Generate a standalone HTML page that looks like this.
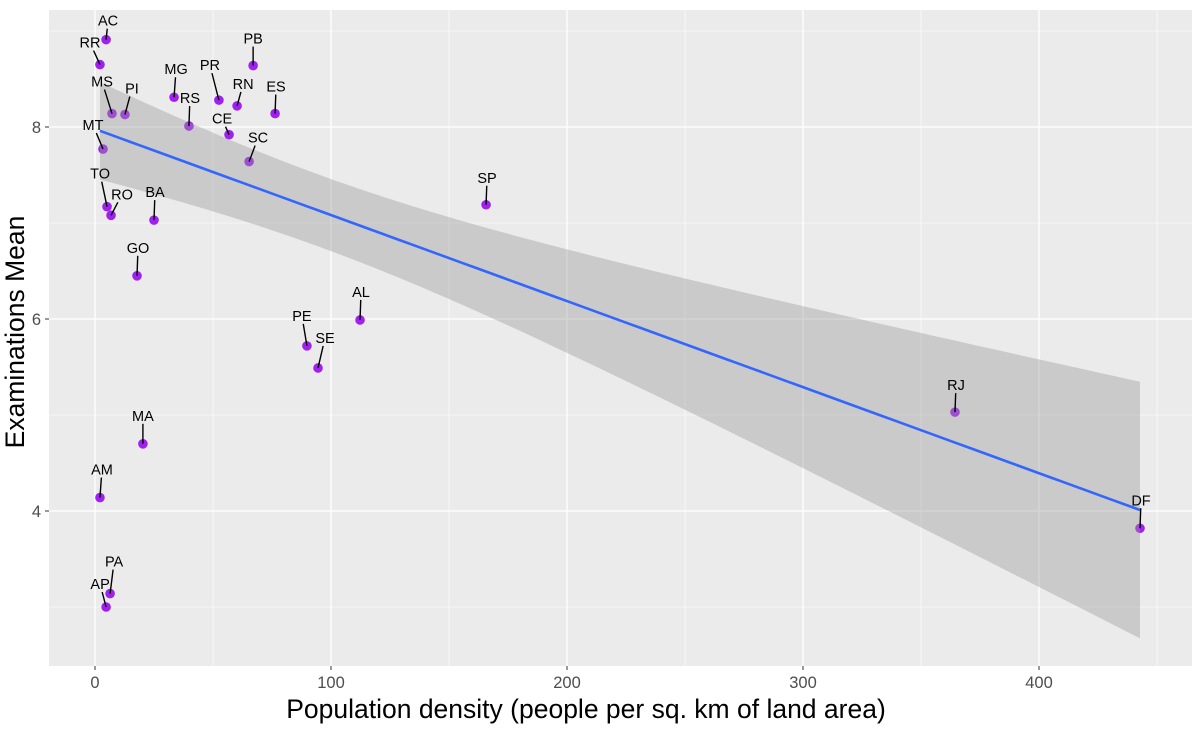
<!DOCTYPE html>
<html><head><meta charset="utf-8"><style>
body{margin:0;background:#fff;}
svg{display:block;font-family:"Liberation Sans",sans-serif;}
</style></head><body>
<svg id="chart" width="1200" height="736"></svg>
<script>
const states=["AC","RR","MS","PI","MG","RS","PR","RN","PB","ES","CE","SC","MT","TO","RO","BA","GO","SP","AL","PE","SE","RJ","DF","MA","AM","PA","AP"];
const density=[4.7,2.1,7.2,12.7,33.5,39.8,52.5,60.2,67,76.3,56.8,65.3,3.4,5.1,6.8,25,17.8,165.7,112.3,89.8,94.5,364.4,442.8,20.3,2.1,6.4,4.7];
const examMean=[8.91,8.65,8.14,8.13,8.31,8.01,8.28,8.22,8.64,8.14,7.92,7.64,7.77,7.17,7.08,7.03,6.45,7.19,5.99,5.72,5.49,5.03,3.82,4.70,4.14,3.14,3.0];
// fitted model shown in the reference (intercept, slope) and CI shape (a, b, centre)
const fitCoef=[7.979,-0.008963];
const ciShape=[0.1406,1.36e-5,95];
const labelOffset={AC:[2,-19],RR:[-10,-22],MS:[-10,-32],PI:[7,-26],MG:[2,-28],RS:[1,-28],PR:[-9,-35],RN:[6,-22],PB:[0,-27],ES:[1,-27],CE:[-7,-16],SC:[9,-24],MT:[-10,-24],TO:[-7,-33],RO:[11,-21],BA:[1,-28],GO:[1,-28],SP:[1,-27],AL:[1,-28],PE:[-5,-30],SE:[7,-30],RJ:[1,-27],DF:[1,-28],MA:[0,-28],AM:[2,-28],PA:[4,-32],AP:[-6,-23]};
const xTicks=[0,100,200,300,400], xMinor=[50,150,250,350,450];
const yTicks=[4,6,8], yMinor=[3,5,7,9];
const L=49,R=1192,T=10,B=666;
const X=v=>95+v*2.36, Y=v=>127-(v-8)*96;
const svg=document.getElementById('chart');
const NS='http://www.w3.org/2000/svg';
function el(t,a,p){const e=document.createElementNS(NS,t);for(const k in a)e.setAttribute(k,a[k]);(p||svg).appendChild(e);return e;}
const bg=el('rect',{x:L,y:T,width:R-L,height:B-T,fill:'#ebebeb'});

xMinor.forEach(v=>{if(X(v)<R){const g=el('line',{x1:X(v),x2:X(v),y1:T,y2:B,stroke:'#fff','stroke-width':0.6});}});
yMinor.forEach(v=>{const g=el('line',{x1:L,x2:R,y1:Y(v),y2:Y(v),stroke:'#fff','stroke-width':0.6});});
xTicks.forEach(v=>{const g=el('line',{x1:X(v),x2:X(v),y1:T,y2:B,stroke:'#fff','stroke-width':1.3});
 const tk=el('line',{x1:X(v),x2:X(v),y1:B,y2:B+4,stroke:'#333','stroke-width':1});
 const t=el('text',{x:X(v),y:B+22,'text-anchor':'middle','font-size':16.5,fill:'#4d4d4d'});t.textContent=v;});
yTicks.forEach(v=>{const g=el('line',{x1:L,x2:R,y1:Y(v),y2:Y(v),stroke:'#fff','stroke-width':1.3});
 const tk=el('line',{x1:L-4,x2:L,y1:Y(v),y2:Y(v),stroke:'#333','stroke-width':1});
 const t=el('text',{x:L-8,y:Y(v)+6,'text-anchor':'end','font-size':16.5,fill:'#4d4d4d'});t.textContent=v;});
// points
states.forEach((s,i)=>{const c=el('circle',{cx:X(density[i]),cy:Y(examMean[i]),r:4.8,fill:'#a020f0'});});
// band + line
const xmin=Math.min(...density),xmax=Math.max(...density);
let up=[],lo=[],ln=[];for(let k=0;k<=80;k++){const x=xmin+(xmax-xmin)*k/80;const f=fitCoef[0]+fitCoef[1]*x;const h=Math.sqrt(ciShape[0]+ciShape[1]*(x-ciShape[2])**2);
 up.push(X(x)+','+Y(f+h));lo.unshift(X(x)+','+Y(f-h));ln.push(X(x)+','+Y(f));}
const band=el('polygon',{points:up.concat(lo).join(' '),fill:'#999',opacity:0.4});
const line=el('polyline',{points:ln.join(' '),fill:'none',stroke:'#3366ff','stroke-width':2.6});
// labels with segments
states.forEach((s,i)=>{const px=X(density[i]),py=Y(examMean[i]);const o=labelOffset[s];const lx=px+o[0],ly=py+o[1];
 const dx=lx-px,dy=ly-py;const hw=12,hh=8;const sc=Math.min(Math.abs(dx)>0?hw/Math.abs(dx):1e9,Math.abs(dy)>0?hh/Math.abs(dy):1e9);
 const ex=lx-dx*sc,ey=ly-dy*sc;const dist=Math.hypot(ex-px,ey-py);
 if(dist>5){const sg=el('line',{x1:px,y1:py,x2:ex,y2:ey,stroke:'#000','stroke-width':1.4});}
 const t=el('text',{x:lx,y:ly+5,'text-anchor':'middle','font-size':14.5,fill:'#000'});t.textContent=s;});
const xt=el('text',{x:586,y:718,'text-anchor':'middle','font-size':26.5,fill:'#000'});xt.textContent='Population density (people per sq. km of land area)';
const yt=el('text',{x:0,y:0,'text-anchor':'middle','font-size':26.5,fill:'#000',transform:'translate(24,332) rotate(-90)'});yt.textContent='Examinations Mean';
</script>
</body></html>
